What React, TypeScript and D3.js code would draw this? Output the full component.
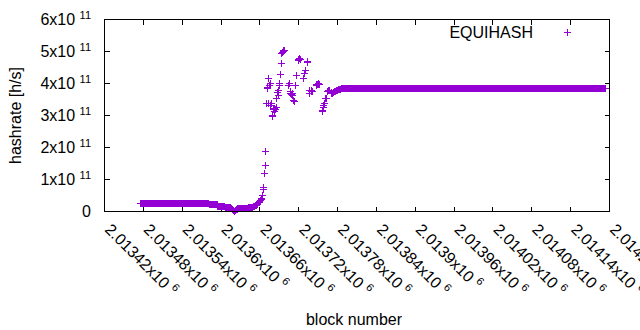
import React from 'react';
import * as d3 from 'd3';

// ---------- data ----------
const BASE_BLOCK = 2013420;

const xTickValues = [2013420, 2013480, 2013540, 2013600, 2013660, 2013720, 2013780, 2013840, 2013900, 2013960, 2014020, 2014080, 2014140, 2014200];
const xTickMantissas = ['2.01342', '2.01348', '2.01354', '2.0136', '2.01366', '2.01372', '2.01378', '2.01384', '2.0139', '2.01396', '2.01402', '2.01408', '2.01414', '2.0142'];
const xTickExponent = '6';

const yTickValues = [0, 1e11, 2e11, 3e11, 4e11, 5e11, 6e11];
const yTickMantissas = ['0', '1', '2', '3', '4', '5', '6'];
const yTickExponent = '11';

const seriesName = 'EQUIHASH';

// flat stretches (block offsets from BASE_BLOCK, hashrate in GH/s)
const runStartOffsets = [55, 162, 368];
const runEndOffsets = [161, 174, 774];
const runHashrateGH = [26.5, 21.5, 385];

// individual points (block offsets from BASE_BLOCK, hashrate in GH/s)
const detailOffsets = [
  175, 176, 177, 178, 179, 180, 181, 182, 183, 184, 185, 186, 187, 188, 189, 190, 191, 192,
  193, 194, 195, 196, 197, 198, 199, 200, 201, 202, 203, 204, 205, 206,
  207, 208, 209, 210, 211, 212, 213, 214, 215, 216, 217, 218, 219, 220, 221, 222, 223, 224, 225, 226, 227, 228,
  229, 230, 231, 232, 233, 234, 235, 236, 237, 238, 239, 240, 241, 242, 243, 244, 245, 246, 247, 248, 249,
  250, 251, 252, 253, 254, 255, 256, 257, 258, 259, 260, 261, 262, 263, 264, 265, 266, 267, 268, 269, 270, 271, 272, 273, 274, 275, 276, 277, 278,
  284, 285, 287, 288, 289, 290, 291, 292, 293, 295, 297, 299, 300, 301, 302, 307, 309, 311, 313, 314, 316, 317, 319, 320, 321,
  327, 328, 329, 330, 331, 332, 336, 337, 338, 339, 340, 342, 343, 345, 346, 347, 350, 351, 352, 353, 354, 355,
  357, 358, 359, 360, 361, 362, 363, 364, 365, 366, 367,
];
const detailHashrateGH = [
  17, 17, 16.5, 16.5, 16, 16, 15.5, 15.5, 15, 15, 14.5, 14.5, 14, 14, 13.5, 13, 13, 12.5,
  12, 11, 10, 8.5, 7, 5.5, 4, 3, 1.5, 2.5, 4, 5.5, 7, 8,
  8.5, 9, 10, 10, 10.5, 10, 10.5, 10, 10, 10.5, 10, 10, 10.5, 10, 10.5, 11, 11, 11.5, 12, 12.5, 13, 13.5,
  14, 15, 16, 17, 18, 19.5, 21, 23, 25, 27, 29.5, 32, 35, 38, 42, 50, 68, 74, 120, 144, 187,
  337, 388, 383, 338, 415, 394, 400, 331, 338, 300, 297, 318, 311, 322, 320, 324, 352, 373, 363, 378, 394, 400, 428, 461, 493, 498, 502, 500, 504,
  394, 400, 375, 368, 365, 370, 362, 347, 344, 394, 425, 473, 475, 477, 474, 417, 430, 440, 466, 468, 368, 378, 374, 377, 375,
  395, 398, 397, 399, 396, 397, 313, 316, 326, 331, 338, 352, 353, 376, 379, 377, 370, 372, 369, 371, 373, 375,
  376, 377, 378, 378, 380, 380, 381, 382, 382, 383, 383,
];

// ---------- layout ----------
const W = 640;
const H = 330;
const LEFT = 104.5;
const RIGHT = 609.5;
const TOP = 19.5;
const BOTTOM = 211.5;
const TICK = 5;
const COLOR = '#9400d3';
const FONT = '"Liberation Sans", Arial, Helvetica, sans-serif';

type Pt = { block: number; h: number };

function buildPoints(): Pt[] {
  const pts: Pt[] = [];
  runStartOffsets.forEach((s, i) => {
    for (let o = s; o <= runEndOffsets[i]; o++) {
      pts.push({ block: BASE_BLOCK + o, h: runHashrateGH[i] * 1e9 });
    }
  });
  detailOffsets.forEach((o, i) => {
    pts.push({ block: BASE_BLOCK + o, h: detailHashrateGH[i] * 1e9 });
  });
  return pts.sort((a, b) => a.block - b.block);
}

export default function App() {
  const x = d3.scaleLinear().domain([xTickValues[0], xTickValues[xTickValues.length - 1]]).range([LEFT, RIGHT]);
  const y = d3.scaleLinear().domain([yTickValues[0], yTickValues[yTickValues.length - 1]]).range([BOTTOM, TOP]);
  const pts = buildPoints();
  const plus = (cx: number, cy: number) => `M${cx - 3.5},${cy}h7M${cx},${cy - 3.5}v7`;

  return (
    <svg
      width={W}
      height={H}
      viewBox={`0 0 ${W} ${H}`}
      style={{ position: 'absolute', left: 0, top: 0, background: '#fff' }}
      fontFamily={FONT}
      fontSize={16}
    >
      <rect x={0} y={0} width={W} height={H} fill="#fff" />
      {/* ticks */}
      <g stroke="#000" strokeWidth={1} shapeRendering="crispEdges">
        {xTickValues.map((t) => (
          <g key={'xt' + t}>
            <line x1={x(t)} x2={x(t)} y1={BOTTOM} y2={BOTTOM - TICK} />
            <line x1={x(t)} x2={x(t)} y1={TOP} y2={TOP + TICK} />
          </g>
        ))}
        {yTickValues.map((t) => (
          <g key={'yt' + t}>
            <line x1={LEFT} x2={LEFT + TICK} y1={y(t)} y2={y(t)} />
            <line x1={RIGHT} x2={RIGHT - TICK} y1={y(t)} y2={y(t)} />
          </g>
        ))}
      </g>
      {/* y tick labels */}
      {yTickValues.map((t, i) => (
        <text key={'yl' + t} x={91} y={y(t) + 5.7} textAnchor="end" fill="#000">
          {i === 0 ? (
            yTickMantissas[i]
          ) : (
            <>
              {`${yTickMantissas[i]}x10\u00a0`}
              <tspan fontSize={11} dy={-6.7}>{yTickExponent}</tspan>
            </>
          )}
        </text>
      ))}
      {/* x tick labels */}
      {xTickValues.map((t, i) => (
        <text key={'xl' + t} transform={`translate(${x(t) - 0.5},230.5) rotate(45)`} fill="#000">
          {`${xTickMantissas[i]}x10\u00a0`}
          <tspan fontSize={11} dy={-6.7}>{xTickExponent}</tspan>
        </text>
      ))}
      {/* axis titles */}
      <text transform={`translate(21,${(TOP + BOTTOM) / 2}) rotate(-90)`} textAnchor="middle" fill="#000">
        hashrate [h/s]
      </text>
      <text x={354} y={324.5} textAnchor="middle" fill="#000">
        block number
      </text>
      {/* data */}
      <g stroke={COLOR} strokeWidth={1} fill="none" shapeRendering="crispEdges">
        {pts.map((p, i) => (
          <path key={i} d={plus(x(p.block), y(p.h))} />
        ))}
      </g>
      {/* legend */}
      <text x={533} y={37.5} textAnchor="end" fill="#000">
        {seriesName}
      </text>
      <path d={plus(567, 32.5)} stroke={COLOR} strokeWidth={1} fill="none" shapeRendering="crispEdges" />
      {/* frame */}
      <rect x={LEFT} y={TOP} width={RIGHT - LEFT} height={BOTTOM - TOP} fill="none" stroke="#000" strokeWidth={1} shapeRendering="crispEdges" />
    </svg>
  );
}
